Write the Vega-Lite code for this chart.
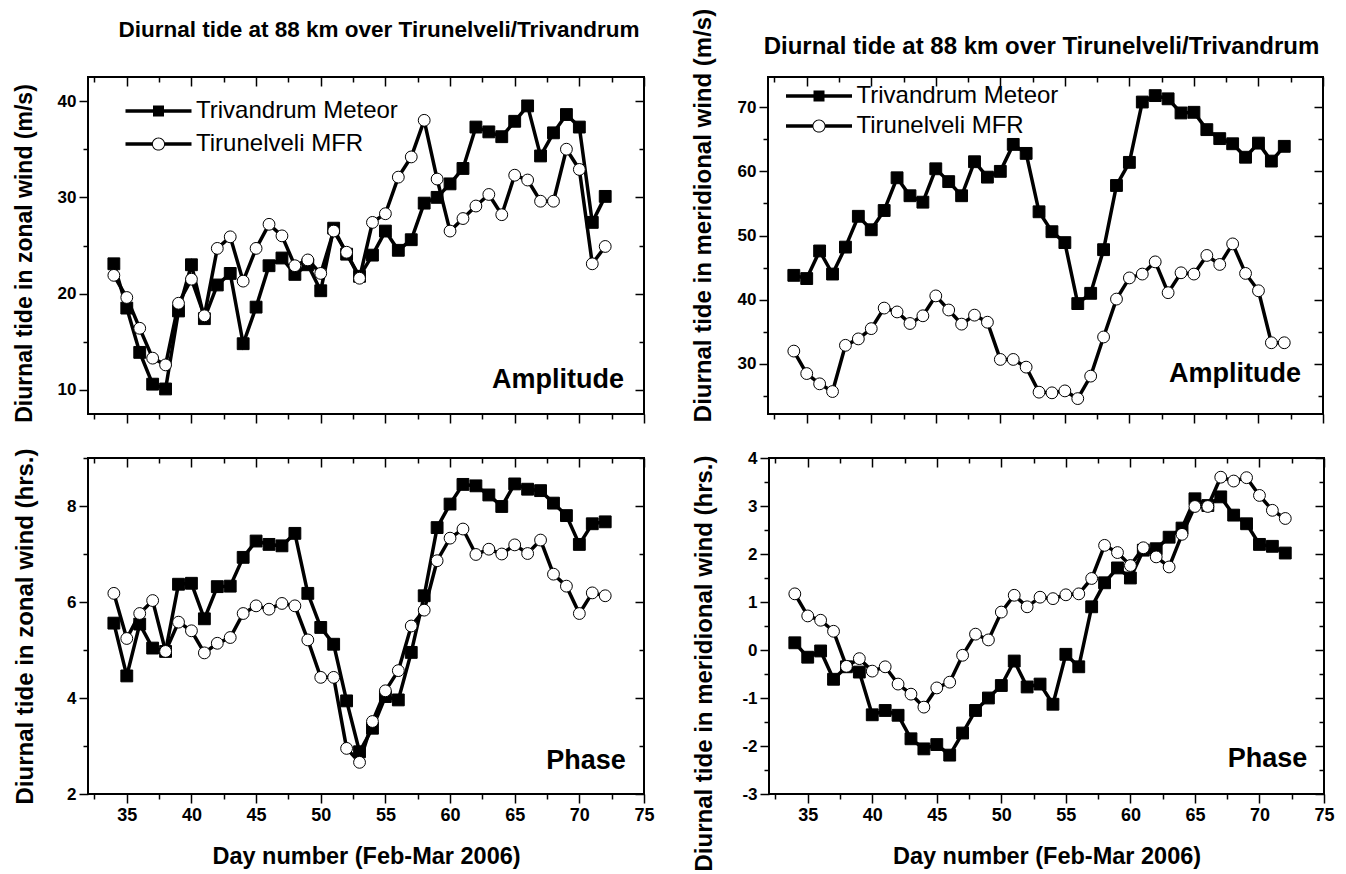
{
  "$schema": "https://vega.github.io/schema/vega-lite/v6.json",
  "background": "white",
  "padding": {"left": 12, "top": 7, "right": 10, "bottom": 3},
  "config": {
    "view": {"stroke": "black", "strokeWidth": 2},
    "axis": {"domain": false, "grid": false, "labelFont": "Liberation Sans", "labelFontWeight": "bold", "labelColor": "black", "tickColor": "black", "tickWidth": 1.5, "titleFont": "Liberation Sans", "titleFontWeight": "bold", "titleColor": "black", "labelOverlap": false, "labelFlush": false},
    "title": {"font": "Liberation Sans", "fontWeight": "bold", "color": "black"},
    "legend": {"labelFont": "Liberation Sans", "labelColor": "black"}
  },
  "datasets": {
    "d": [
      {"day": 34, "series": "Trivandrum Meteor", "za": 23.1, "ma": 43.8, "zp": 5.56, "mp": 0.15},
      {"day": 35, "series": "Trivandrum Meteor", "za": 18.5, "ma": 43.3, "zp": 4.46, "mp": -0.15},
      {"day": 36, "series": "Trivandrum Meteor", "za": 13.9, "ma": 47.6, "zp": 5.54, "mp": -0.02},
      {"day": 37, "series": "Trivandrum Meteor", "za": 10.6, "ma": 44.0, "zp": 5.04, "mp": -0.61},
      {"day": 38, "series": "Trivandrum Meteor", "za": 10.1, "ma": 48.2, "zp": 4.97, "mp": -0.35},
      {"day": 39, "series": "Trivandrum Meteor", "za": 18.2, "ma": 53.0, "zp": 6.37, "mp": -0.46},
      {"day": 40, "series": "Trivandrum Meteor", "za": 23.0, "ma": 50.9, "zp": 6.39, "mp": -1.35},
      {"day": 41, "series": "Trivandrum Meteor", "za": 17.4, "ma": 53.9, "zp": 5.65, "mp": -1.26},
      {"day": 42, "series": "Trivandrum Meteor", "za": 20.9, "ma": 59.0, "zp": 6.32, "mp": -1.36},
      {"day": 43, "series": "Trivandrum Meteor", "za": 22.1, "ma": 56.2, "zp": 6.33, "mp": -1.85},
      {"day": 44, "series": "Trivandrum Meteor", "za": 14.8, "ma": 55.2, "zp": 6.93, "mp": -2.06},
      {"day": 45, "series": "Trivandrum Meteor", "za": 18.6, "ma": 60.4, "zp": 7.27, "mp": -1.97},
      {"day": 46, "series": "Trivandrum Meteor", "za": 22.9, "ma": 58.4, "zp": 7.20, "mp": -2.19},
      {"day": 47, "series": "Trivandrum Meteor", "za": 23.7, "ma": 56.2, "zp": 7.17, "mp": -1.73},
      {"day": 48, "series": "Trivandrum Meteor", "za": 22.0, "ma": 61.5, "zp": 7.43, "mp": -1.26},
      {"day": 49, "series": "Trivandrum Meteor", "za": 23.0, "ma": 59.1, "zp": 6.18, "mp": -1.00},
      {"day": 50, "series": "Trivandrum Meteor", "za": 20.3, "ma": 60.0, "zp": 5.47, "mp": -0.74},
      {"day": 51, "series": "Trivandrum Meteor", "za": 26.8, "ma": 64.2, "zp": 5.12, "mp": -0.23},
      {"day": 52, "series": "Trivandrum Meteor", "za": 24.1, "ma": 62.8, "zp": 3.94, "mp": -0.77},
      {"day": 53, "series": "Trivandrum Meteor", "za": 21.8, "ma": 53.7, "zp": 2.88, "mp": -0.71},
      {"day": 54, "series": "Trivandrum Meteor", "za": 24.0, "ma": 50.6, "zp": 3.37, "mp": -1.13},
      {"day": 55, "series": "Trivandrum Meteor", "za": 26.5, "ma": 48.9, "zp": 4.03, "mp": -0.09},
      {"day": 56, "series": "Trivandrum Meteor", "za": 24.5, "ma": 39.4, "zp": 3.96, "mp": -0.35},
      {"day": 57, "series": "Trivandrum Meteor", "za": 25.6, "ma": 41.0, "zp": 4.95, "mp": 0.90},
      {"day": 58, "series": "Trivandrum Meteor", "za": 29.4, "ma": 47.8, "zp": 6.13, "mp": 1.40},
      {"day": 59, "series": "Trivandrum Meteor", "za": 30.0, "ma": 57.8, "zp": 7.55, "mp": 1.71},
      {"day": 60, "series": "Trivandrum Meteor", "za": 31.4, "ma": 61.4, "zp": 8.04, "mp": 1.50},
      {"day": 61, "series": "Trivandrum Meteor", "za": 33.0, "ma": 70.8, "zp": 8.45, "mp": 2.08},
      {"day": 62, "series": "Trivandrum Meteor", "za": 37.3, "ma": 71.8, "zp": 8.42, "mp": 2.11},
      {"day": 63, "series": "Trivandrum Meteor", "za": 36.8, "ma": 71.3, "zp": 8.23, "mp": 2.35},
      {"day": 64, "series": "Trivandrum Meteor", "za": 36.3, "ma": 69.1, "zp": 7.99, "mp": 2.54},
      {"day": 65, "series": "Trivandrum Meteor", "za": 37.9, "ma": 69.2, "zp": 8.46, "mp": 3.15},
      {"day": 66, "series": "Trivandrum Meteor", "za": 39.5, "ma": 66.5, "zp": 8.35, "mp": 3.01},
      {"day": 67, "series": "Trivandrum Meteor", "za": 34.3, "ma": 65.1, "zp": 8.32, "mp": 3.19},
      {"day": 68, "series": "Trivandrum Meteor", "za": 36.7, "ma": 64.3, "zp": 8.06, "mp": 2.81},
      {"day": 69, "series": "Trivandrum Meteor", "za": 38.6, "ma": 62.2, "zp": 7.80, "mp": 2.63},
      {"day": 70, "series": "Trivandrum Meteor", "za": 37.3, "ma": 64.4, "zp": 7.20, "mp": 2.20},
      {"day": 71, "series": "Trivandrum Meteor", "za": 27.4, "ma": 61.6, "zp": 7.63, "mp": 2.16},
      {"day": 72, "series": "Trivandrum Meteor", "za": 30.1, "ma": 63.9, "zp": 7.67, "mp": 2.02},
      {"day": 34, "series": "Tirunelveli MFR", "za": 21.9, "ma": 32.0, "zp": 6.18, "mp": 1.17},
      {"day": 35, "series": "Tirunelveli MFR", "za": 19.6, "ma": 28.5, "zp": 5.24, "mp": 0.71},
      {"day": 36, "series": "Tirunelveli MFR", "za": 16.4, "ma": 26.9, "zp": 5.76, "mp": 0.62},
      {"day": 37, "series": "Tirunelveli MFR", "za": 13.3, "ma": 25.7, "zp": 6.03, "mp": 0.39},
      {"day": 38, "series": "Tirunelveli MFR", "za": 12.6, "ma": 32.9, "zp": 4.97, "mp": -0.34},
      {"day": 39, "series": "Tirunelveli MFR", "za": 19.0, "ma": 33.9, "zp": 5.58, "mp": -0.18},
      {"day": 40, "series": "Tirunelveli MFR", "za": 21.5, "ma": 35.5, "zp": 5.40, "mp": -0.44},
      {"day": 41, "series": "Tirunelveli MFR", "za": 17.7, "ma": 38.7, "zp": 4.94, "mp": -0.35},
      {"day": 42, "series": "Tirunelveli MFR", "za": 24.7, "ma": 38.1, "zp": 5.14, "mp": -0.71},
      {"day": 43, "series": "Tirunelveli MFR", "za": 25.9, "ma": 36.3, "zp": 5.26, "mp": -0.92},
      {"day": 44, "series": "Tirunelveli MFR", "za": 21.3, "ma": 37.5, "zp": 5.76, "mp": -1.19},
      {"day": 45, "series": "Tirunelveli MFR", "za": 24.7, "ma": 40.6, "zp": 5.92, "mp": -0.79},
      {"day": 46, "series": "Tirunelveli MFR", "za": 27.2, "ma": 38.4, "zp": 5.85, "mp": -0.67},
      {"day": 47, "series": "Tirunelveli MFR", "za": 26.0, "ma": 36.2, "zp": 5.97, "mp": -0.11},
      {"day": 48, "series": "Tirunelveli MFR", "za": 22.9, "ma": 37.6, "zp": 5.92, "mp": 0.33},
      {"day": 49, "series": "Tirunelveli MFR", "za": 23.5, "ma": 36.5, "zp": 5.21, "mp": 0.21},
      {"day": 50, "series": "Tirunelveli MFR", "za": 22.1, "ma": 30.7, "zp": 4.43, "mp": 0.79},
      {"day": 51, "series": "Tirunelveli MFR", "za": 26.5, "ma": 30.7, "zp": 4.43, "mp": 1.14},
      {"day": 52, "series": "Tirunelveli MFR", "za": 24.3, "ma": 29.5, "zp": 2.95, "mp": 0.90},
      {"day": 53, "series": "Tirunelveli MFR", "za": 21.6, "ma": 25.6, "zp": 2.66, "mp": 1.10},
      {"day": 54, "series": "Tirunelveli MFR", "za": 27.4, "ma": 25.5, "zp": 3.51, "mp": 1.07},
      {"day": 55, "series": "Tirunelveli MFR", "za": 28.3, "ma": 25.8, "zp": 4.15, "mp": 1.15},
      {"day": 56, "series": "Tirunelveli MFR", "za": 32.1, "ma": 24.6, "zp": 4.57, "mp": 1.17},
      {"day": 57, "series": "Tirunelveli MFR", "za": 34.2, "ma": 28.1, "zp": 5.50, "mp": 1.49},
      {"day": 58, "series": "Tirunelveli MFR", "za": 38.0, "ma": 34.2, "zp": 5.83, "mp": 2.18},
      {"day": 59, "series": "Tirunelveli MFR", "za": 31.9, "ma": 40.1, "zp": 6.86, "mp": 2.03},
      {"day": 60, "series": "Tirunelveli MFR", "za": 26.5, "ma": 43.4, "zp": 7.33, "mp": 1.76},
      {"day": 61, "series": "Tirunelveli MFR", "za": 27.8, "ma": 44.0, "zp": 7.52, "mp": 2.13},
      {"day": 62, "series": "Tirunelveli MFR", "za": 29.1, "ma": 45.9, "zp": 6.99, "mp": 1.94},
      {"day": 63, "series": "Tirunelveli MFR", "za": 30.3, "ma": 41.1, "zp": 7.10, "mp": 1.73},
      {"day": 64, "series": "Tirunelveli MFR", "za": 28.2, "ma": 44.2, "zp": 7.00, "mp": 2.41},
      {"day": 65, "series": "Tirunelveli MFR", "za": 32.3, "ma": 44.0, "zp": 7.19, "mp": 2.99},
      {"day": 66, "series": "Tirunelveli MFR", "za": 31.8, "ma": 46.9, "zp": 7.01, "mp": 2.99},
      {"day": 67, "series": "Tirunelveli MFR", "za": 29.6, "ma": 45.5, "zp": 7.29, "mp": 3.60},
      {"day": 68, "series": "Tirunelveli MFR", "za": 29.6, "ma": 48.7, "zp": 6.58, "mp": 3.52},
      {"day": 69, "series": "Tirunelveli MFR", "za": 35.0, "ma": 44.1, "zp": 6.33, "mp": 3.59},
      {"day": 70, "series": "Tirunelveli MFR", "za": 32.9, "ma": 41.4, "zp": 5.76, "mp": 3.22},
      {"day": 71, "series": "Tirunelveli MFR", "za": 23.1, "ma": 33.3, "zp": 6.19, "mp": 2.91},
      {"day": 72, "series": "Tirunelveli MFR", "za": 24.9, "ma": 33.3, "zp": 6.13, "mp": 2.74}
    ]
  },
  "spacing": 21,
  "resolve": {"scale": {"shape": "independent"}, "legend": {"shape": "independent"}},
  "vconcat": [
    {
      "spacing": 44,
      "resolve": {"scale": {"shape": "independent"}, "legend": {"shape": "independent"}},
      "hconcat": [
        {
          "width": 556, "height": 337,
          "title": {"text": "Diurnal tide at 88 km over Tirunelveli/Trivandrum", "fontSize": 22.5, "offset": 35, "dx": 13},
          "data": {"name": "d"},
          "resolve": {"axis": {"x": "independent", "y": "independent"}},
          "layer": [
            {
              "mark": {"type": "line", "color": "black", "strokeWidth": 3.5},
              "encoding": {
                "x": {"field": "day", "type": "quantitative", "scale": {"domain": [32, 75], "nice": false, "zero": false},
                  "axis": {"values": [32.5, 35, 37.5, 40, 42.5, 45, 47.5, 50, 52.5, 55, 57.5, 60, 62.5, 65, 67.5, 70, 72.5, 75], "labels": false, "title": null,
                    "tickSize": {"condition": {"test": "datum.value % 5 === 0", "value": 9}, "value": 5}}},
                "y": {"field": "za", "type": "quantitative", "scale": {"domain": [7.5, 42.5], "nice": false, "zero": false},
                  "axis": {"values": [10, 15, 20, 25, 30, 35, 40], "labelExpr": "datum.value % 10 === 0 ? '' + datum.value : ''", "labelFontSize": 17, "labelPadding": 3,
                    "tickSize": {"condition": {"test": "datum.value % 10 === 0", "value": 9}, "value": 5},
                    "title": "Diurnal tide in zonal wind (m/s)", "titleFontSize": 23, "titlePadding": 21, "titleY": 176}},
                "detail": {"field": "series"}
              }
            },
            {
              "mark": {"type": "point", "filled": true, "opacity": 1, "stroke": "black", "strokeWidth": 1, "size": 140},
              "encoding": {
                "x": {"field": "day", "type": "quantitative",
                  "axis": {"orient": "top", "values": [32.5, 35, 37.5, 40, 42.5, 45, 47.5, 50, 52.5, 55, 57.5, 60, 62.5, 65, 67.5, 70, 72.5, 75], "labels": false, "title": null,
                    "tickSize": {"condition": {"test": "datum.value % 5 === 0", "value": -9}, "value": -5}}},
                "y": {"field": "za", "type": "quantitative",
                  "axis": {"orient": "right", "values": [10, 15, 20, 25, 30, 35, 40], "labels": false, "title": null,
                    "tickSize": {"condition": {"test": "datum.value % 10 === 0", "value": -9}, "value": -5}}},
                "shape": {"condition": {"test": "datum.series === 'Trivandrum Meteor'", "value": "square"}, "value": "circle"},
                "fill": {"condition": {"test": "datum.series === 'Trivandrum Meteor'", "value": "black"}, "value": "white"}
              }
            },
            {
              "transform": [{"filter": "false"}],
              "mark": {"type": "point", "filled": true, "color": "black", "opacity": 1},
              "encoding": {
                "x": {"field": "day", "type": "quantitative", "axis": null},
                "y": {"field": "za", "type": "quantitative", "axis": null},
                "shape": {"field": "series", "type": "nominal",
                  "scale": {"domain": ["Trivandrum Meteor", "Tirunelveli MFR"], "range": ["M-3.3,-0.17H3.3V0.17H-3.3ZM-0.55,-0.55H0.55V0.55H-0.55Z", "M-3.3,-0.17H-0.64V0.17H-3.3ZM0.64,-0.17H3.3V0.17H0.64ZM0.66,0A0.66,0.66,0,1,1,-0.66,0A0.66,0.66,0,1,1,0.66,0ZM0.56,0A0.56,0.56,0,1,0,-0.56,0A0.56,0.56,0,1,0,0.56,0Z"]},
                  "legend": {"title": null, "orient": "none", "legendX": 58.5, "legendY": 22, "labelFontSize": 24, "labelLimit": 400, "symbolSize": 400, "symbolStrokeWidth": 0, "symbolFillColor": "black", "symbolOpacity": 1, "labelOffset": 25.5, "rowPadding": 9, "padding": 0}}
              }
            },
            {
              "data": {"values": [{}]},
              "mark": {"type": "text", "text": "Amplitude", "font": "Liberation Sans", "fontWeight": "bold", "fontSize": 27, "align": "right", "baseline": "alphabetic", "color": "black"},
              "encoding": {
                "x": {"datum": 73.45, "type": "quantitative", "axis": null},
                "y": {"datum": 10.2, "type": "quantitative", "axis": null}
              }
            }
          ]
        },
        {
          "width": 555, "height": 337,
          "title": {"text": "Diurnal tide at 88 km over Tirunelveli/Trivandrum", "fontSize": 24, "offset": 12, "dx": -4, "dy": 63},
          "data": {"name": "d"},
          "resolve": {"axis": {"x": "independent", "y": "independent"}},
          "layer": [
            {
              "mark": {"type": "line", "color": "black", "strokeWidth": 3.5},
              "encoding": {
                "x": {"field": "day", "type": "quantitative", "scale": {"domain": [32, 75], "nice": false, "zero": false},
                  "axis": {"values": [32.5, 35, 37.5, 40, 42.5, 45, 47.5, 50, 52.5, 55, 57.5, 60, 62.5, 65, 67.5, 70, 72.5, 75], "labels": false, "title": null,
                    "tickSize": {"condition": {"test": "datum.value % 5 === 0", "value": 9}, "value": 5}}},
                "y": {"field": "ma", "type": "quantitative", "scale": {"domain": [22.2, 74.7], "nice": false, "zero": false},
                  "axis": {"values": [25, 30, 35, 40, 45, 50, 55, 60, 65, 70], "labelExpr": "datum.value % 10 === 0 ? '' + datum.value : ''", "labelFontSize": 17, "labelPadding": 3,
                    "tickSize": {"condition": {"test": "datum.value % 10 === 0", "value": 9}, "value": 5},
                    "title": "Diurnal tide in meridional wind (m/s)", "titleFontSize": 24, "titlePadding": 22, "titleY": 138}},
                "detail": {"field": "series"}
              }
            },
            {
              "mark": {"type": "point", "filled": true, "opacity": 1, "stroke": "black", "strokeWidth": 1, "size": 140},
              "encoding": {
                "x": {"field": "day", "type": "quantitative",
                  "axis": {"orient": "top", "values": [32.5, 35, 37.5, 40, 42.5, 45, 47.5, 50, 52.5, 55, 57.5, 60, 62.5, 65, 67.5, 70, 72.5, 75], "labels": false, "title": null,
                    "tickSize": {"condition": {"test": "datum.value % 5 === 0", "value": -9}, "value": -5}}},
                "y": {"field": "ma", "type": "quantitative",
                  "axis": {"orient": "right", "values": [25, 30, 35, 40, 45, 50, 55, 60, 65, 70], "labels": false, "title": null,
                    "tickSize": {"condition": {"test": "datum.value % 10 === 0", "value": -9}, "value": -5}}},
                "shape": {"condition": {"test": "datum.series === 'Trivandrum Meteor'", "value": "square"}, "value": "circle"},
                "fill": {"condition": {"test": "datum.series === 'Trivandrum Meteor'", "value": "black"}, "value": "white"}
              }
            },
            {
              "transform": [{"filter": "false"}],
              "mark": {"type": "point", "filled": true, "color": "black", "opacity": 1},
              "encoding": {
                "x": {"field": "day", "type": "quantitative", "axis": null},
                "y": {"field": "ma", "type": "quantitative", "axis": null},
                "shape": {"field": "series", "type": "nominal",
                  "scale": {"domain": ["Trivandrum Meteor", "Tirunelveli MFR"], "range": ["M-3.3,-0.17H3.3V0.17H-3.3ZM-0.55,-0.55H0.55V0.55H-0.55Z", "M-3.3,-0.17H-0.64V0.17H-3.3ZM0.64,-0.17H3.3V0.17H0.64ZM0.66,0A0.66,0.66,0,1,1,-0.66,0A0.66,0.66,0,1,1,0.66,0ZM0.56,0A0.56,0.56,0,1,0,-0.56,0A0.56,0.56,0,1,0,0.56,0Z"]},
                  "legend": {"title": null, "orient": "none", "legendX": 39, "legendY": 7, "labelFontSize": 24, "labelLimit": 400, "symbolSize": 400, "symbolStrokeWidth": 0, "symbolFillColor": "black", "symbolOpacity": 1, "labelOffset": 25.5, "rowPadding": 6, "padding": 0}}
              }
            },
            {
              "data": {"values": [{}]},
              "mark": {"type": "text", "text": "Amplitude", "font": "Liberation Sans", "fontWeight": "bold", "fontSize": 27, "align": "right", "baseline": "alphabetic", "color": "black"},
              "encoding": {
                "x": {"datum": 73.3, "type": "quantitative", "axis": null},
                "y": {"datum": 27.2, "type": "quantitative", "axis": null}
              }
            }
          ]
        }
      ]
    },
    {
      "spacing": 35,
      "resolve": {"scale": {"shape": "independent"}, "legend": {"shape": "independent"}},
      "hconcat": [
        {
          "width": 556, "height": 336,
          "data": {"name": "d"},
          "resolve": {"axis": {"x": "independent", "y": "independent"}},
          "layer": [
            {
              "mark": {"type": "line", "color": "black", "strokeWidth": 3.5},
              "encoding": {
                "x": {"field": "day", "type": "quantitative", "scale": {"domain": [32, 75], "nice": false, "zero": false},
                  "axis": {"values": [32.5, 35, 37.5, 40, 42.5, 45, 47.5, 50, 52.5, 55, 57.5, 60, 62.5, 65, 67.5, 70, 72.5, 75], "labelExpr": "datum.value % 5 === 0 ? '' + datum.value : ''", "labelFontSize": 18, "labelPadding": 3,
                    "tickSize": {"condition": {"test": "datum.value % 5 === 0", "value": 9}, "value": 5},
                    "title": "Day number (Feb-Mar 2006)", "titleFontSize": 23.5, "titlePadding": 20}},
                "y": {"field": "zp", "type": "quantitative", "scale": {"domain": [2, 9], "nice": false, "zero": false},
                  "axis": {"values": [2, 3, 4, 5, 6, 7, 8, 9], "labelExpr": "datum.value % 2 === 0 ? '' + datum.value : ''", "labelFontSize": 17, "labelPadding": 3,
                    "tickSize": {"condition": {"test": "datum.value % 2 === 0", "value": 9}, "value": 5},
                    "title": "Diurnal tide in zonal wind (hrs.)", "titleFontSize": 24, "titlePadding": 29.5}},
                "detail": {"field": "series"}
              }
            },
            {
              "mark": {"type": "point", "filled": true, "opacity": 1, "stroke": "black", "strokeWidth": 1, "size": 140},
              "encoding": {
                "x": {"field": "day", "type": "quantitative",
                  "axis": {"orient": "top", "values": [32.5, 35, 37.5, 40, 42.5, 45, 47.5, 50, 52.5, 55, 57.5, 60, 62.5, 65, 67.5, 70, 72.5, 75], "labels": false, "title": null,
                    "tickSize": {"condition": {"test": "datum.value % 5 === 0", "value": -9}, "value": -5}}},
                "y": {"field": "zp", "type": "quantitative",
                  "axis": {"orient": "right", "values": [2, 3, 4, 5, 6, 7, 8, 9], "labels": false, "title": null,
                    "tickSize": {"condition": {"test": "datum.value % 2 === 0", "value": -9}, "value": -5}}},
                "shape": {"condition": {"test": "datum.series === 'Trivandrum Meteor'", "value": "square"}, "value": "circle"},
                "fill": {"condition": {"test": "datum.series === 'Trivandrum Meteor'", "value": "black"}, "value": "white"}
              }
            },
            {
              "data": {"values": [{}]},
              "mark": {"type": "text", "text": "Phase", "font": "Liberation Sans", "fontWeight": "bold", "fontSize": 27, "align": "right", "baseline": "alphabetic", "color": "black"},
              "encoding": {
                "x": {"datum": 73.6, "type": "quantitative", "axis": null},
                "y": {"datum": 2.53, "type": "quantitative", "axis": null}
              }
            }
          ]
        },
        {
          "width": 555, "height": 336,
          "data": {"name": "d"},
          "resolve": {"axis": {"x": "independent", "y": "independent"}},
          "layer": [
            {
              "mark": {"type": "line", "color": "black", "strokeWidth": 3.5},
              "encoding": {
                "x": {"field": "day", "type": "quantitative", "scale": {"domain": [32, 75], "nice": false, "zero": false},
                  "axis": {"values": [32.5, 35, 37.5, 40, 42.5, 45, 47.5, 50, 52.5, 55, 57.5, 60, 62.5, 65, 67.5, 70, 72.5, 75], "labelExpr": "datum.value % 5 === 0 ? '' + datum.value : ''", "labelFontSize": 18, "labelPadding": 3,
                    "tickSize": {"condition": {"test": "datum.value % 5 === 0", "value": 9}, "value": 5},
                    "title": "Day number (Feb-Mar 2006)", "titleFontSize": 23.5, "titlePadding": 20}},
                "y": {"field": "mp", "type": "quantitative", "scale": {"domain": [-3, 4], "nice": false, "zero": false},
                  "axis": {"values": [-3, -2.5, -2, -1.5, -1, -0.5, 0, 0.5, 1, 1.5, 2, 2.5, 3, 3.5, 4], "labelExpr": "datum.value % 1 === 0 ? '' + datum.value : ''", "labelFontSize": 17, "labelPadding": 3,
                    "tickSize": {"condition": {"test": "datum.value % 1 === 0", "value": 9}, "value": 5},
                    "title": "Diurnal tide in meridional wind (hrs.)", "titleFontSize": 24, "titlePadding": 25.8, "titleY": 205}},
                "detail": {"field": "series"}
              }
            },
            {
              "mark": {"type": "point", "filled": true, "opacity": 1, "stroke": "black", "strokeWidth": 1, "size": 140},
              "encoding": {
                "x": {"field": "day", "type": "quantitative",
                  "axis": {"orient": "top", "values": [32.5, 35, 37.5, 40, 42.5, 45, 47.5, 50, 52.5, 55, 57.5, 60, 62.5, 65, 67.5, 70, 72.5, 75], "labels": false, "title": null,
                    "tickSize": {"condition": {"test": "datum.value % 5 === 0", "value": -9}, "value": -5}}},
                "y": {"field": "mp", "type": "quantitative",
                  "axis": {"orient": "right", "values": [-3, -2.5, -2, -1.5, -1, -0.5, 0, 0.5, 1, 1.5, 2, 2.5, 3, 3.5, 4], "labels": false, "title": null,
                    "tickSize": {"condition": {"test": "datum.value % 1 === 0", "value": -9}, "value": -5}}},
                "shape": {"condition": {"test": "datum.series === 'Trivandrum Meteor'", "value": "square"}, "value": "circle"},
                "fill": {"condition": {"test": "datum.series === 'Trivandrum Meteor'", "value": "black"}, "value": "white"}
              }
            },
            {
              "data": {"values": [{}]},
              "mark": {"type": "text", "text": "Phase", "font": "Liberation Sans", "fontWeight": "bold", "fontSize": 27, "align": "right", "baseline": "alphabetic", "color": "black"},
              "encoding": {
                "x": {"datum": 73.7, "type": "quantitative", "axis": null},
                "y": {"datum": -2.44, "type": "quantitative", "axis": null}
              }
            }
          ]
        }
      ]
    }
  ]
}
